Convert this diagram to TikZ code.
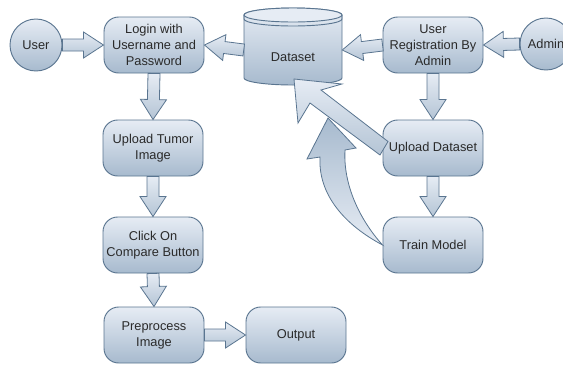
\documentclass[tikz,border=0pt]{standalone}
\usepackage{fontspec}
\setmainfont{Liberation Sans}
\usetikzlibrary{calc}
\definecolor{bordc}{HTML}{5A7590}
\definecolor{topc}{HTML}{E6ECF4}
\definecolor{botc}{HTML}{A7BACE}
\definecolor{txtc}{HTML}{2A2A2A}
\newcommand\fatarr[2]{%
  \path[fatarrow] let \p1=(#1), \p2=(#2), \n1={atan2(\y2-\y1,\x2-\x1)},
    \n2={\n1+90}, \n3={\n1-90}, \n4={\n1+180} in
    ($(\p1)+(\n2:4.5pt)$) -- ($(\p2)+(\n4:15pt)+(\n2:4.5pt)$) --
    ($(\p2)+(\n4:15pt)+(\n2:9.75pt)$) -- (\p2) --
    ($(\p2)+(\n4:15pt)+(\n3:9.75pt)$) -- ($(\p2)+(\n4:15pt)+(\n3:4.5pt)$) --
    ($(\p1)+(\n3:4.5pt)$) -- cycle;}
\begin{document}
\begin{tikzpicture}[x=0.75pt,y=-0.75pt,
  lbl/.style={text=txtc, font=\fontsize{9.6}{12}\selectfont, align=center},
  box/.style={lbl, draw=bordc, line width=0.7pt, rounded corners=11pt,
    top color=topc, bottom color=botc, minimum width=75pt, minimum height=42pt, inner sep=1pt},
  circ/.style={lbl, circle, draw=bordc, line width=0.7pt, top color=topc,
    bottom color=botc, minimum size=39pt, inner sep=0pt},
  fatarrow/.style={draw=bordc, line width=0.6pt, top color=topc, bottom color=botc!85, line join=miter},
  cyl/.style={draw=bordc, line width=0.7pt},
]
\useasboundingbox (0,0) rectangle (563,365);

% Dataset cylinder
\path[cyl, top color=topc, bottom color=botc]
  (244,15) -- (244,78) arc[start angle=180, end angle=360, x radius=36.75pt, y radius=5.25pt]
  -- (342,15) arc[start angle=0, end angle=180, x radius=36.75pt, y radius=5.25pt] -- cycle;
\path[cyl, fill=topc] (293,15) ellipse [x radius=36.75pt, y radius=5.25pt];
\draw[cyl] (244,15) -- (244,19) arc[start angle=180, end angle=360, x radius=36.75pt, y radius=5.25pt] -- (342,15);
\node[lbl, minimum width=73.5pt, minimum height=52pt, inner sep=0pt] (dataset) at (293,50) {};
\node[lbl] at (293,57) {Dataset};

% nodes
\node[circ] (user) at (36,45) {User};
\node[box] (login) at (154,45) {Login with\\Username and\\Password};
\node[box] (reg) at (433,45) {User\\Registration By\\Admin};
\node[circ] (admin) at (546,44) {Admin};
\node[box] (uptumor) at (153,148) {Upload Tumor\\Image};
\node[box] (click) at (153,245) {Click On\\Compare Button};
\node[box] (pre) at (154,335) {Preprocess\\Image};
\node[box] (output) at (296,335) {Output};
\node[box] (upds) at (433,148) {Upload Dataset};
\node[box] (train) at (433,245) {Train Model};

% fat arrows
\fatarr{user.east}{login.west}
\fatarr{dataset.west}{login.east}
\fatarr{reg.west}{dataset.east}
\fatarr{admin.west}{reg.east}
\fatarr{login.south}{uptumor.north}
\fatarr{uptumor.south}{click.north}
\fatarr{click.south}{pre.north}
\fatarr{pre.east}{output.west}
\fatarr{reg.south}{upds.north}
\fatarr{upds.south}{train.north}

% big diagonal arrow: Upload Dataset -> Dataset
\coordinate (dtip) at (294,79);
\path[fatarrow] (388,141.5) -- (321,90) -- (342,84) -- (dtip) -- (298,123) -- (310,103) -- (380,155) -- cycle;

% curved arrow: Train Model -> Dataset
\coordinate (ctip) at (328,118);
\path[fatarrow, top color=botc, bottom color=topc]
  (train.west) .. controls (345,225) and (318,195) .. (320,157) -- (307,159) -- (ctip)
  -- (356,148) -- (345,150) .. controls (343,185) and (360,220) .. (train.west) -- cycle;
\end{tikzpicture}
\end{document}
